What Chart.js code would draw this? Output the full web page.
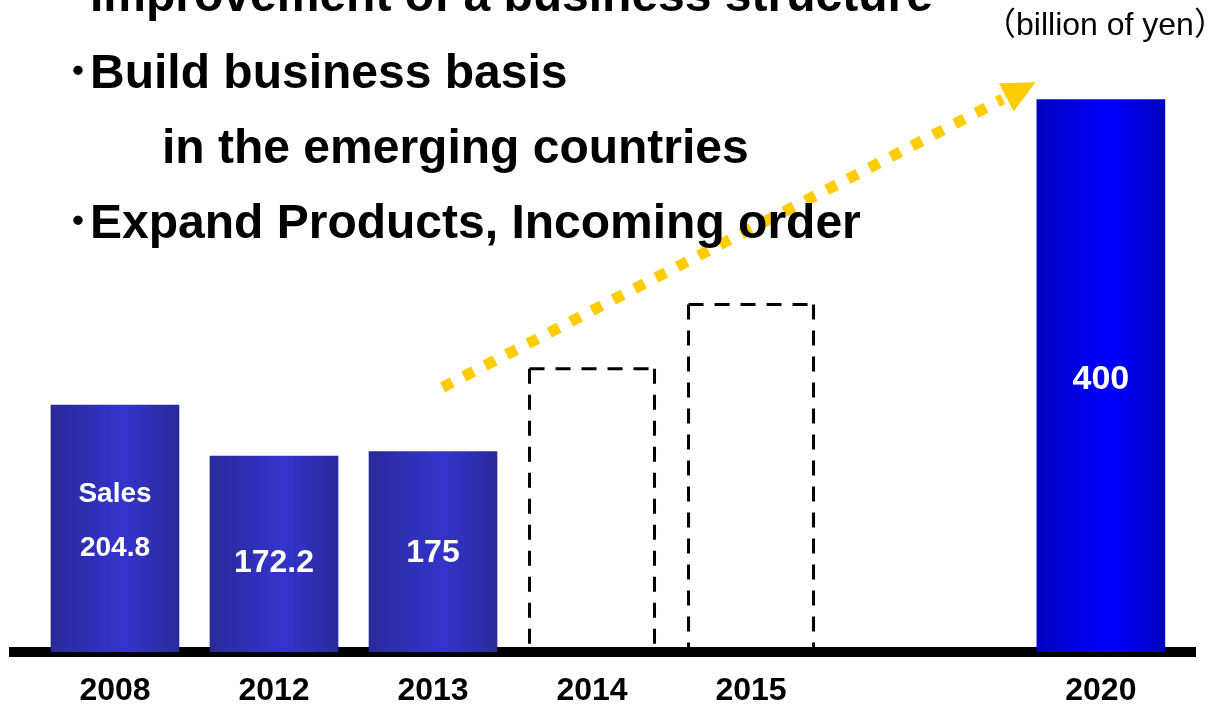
<!DOCTYPE html>
<html>
<head>
<meta charset="utf-8">
<script src="https://cdn.jsdelivr.net/npm/chart.js@4/dist/chart.umd.min.js"></script>
<style>
  html, body { margin: 0; padding: 0; background: #fff; }
  #stage { position: relative; width: 1223px; height: 711px; overflow: hidden; }
  #chart { position: absolute; left: 0; top: 0; }
  .headline {
    position: absolute; white-space: nowrap; color: #000;
    font: bold 48px/48px "Liberation Sans", "Noto Sans CJK JP", Arial, sans-serif;
  }
  .unit {
    position: absolute; white-space: nowrap; color: #000;
    font: 32px/32px "Liberation Sans", "Noto Sans CJK JP", Arial, sans-serif;
  }
</style>
</head>
<body>
<div id="stage">
  <canvas id="chart" width="1223" height="711"></canvas>
  <div class="headline" style="left:90px; top:-29px;">Improvement of a business structure</div>
  <div class="headline" style="left:66px; top:48px;">･Build business basis</div>
  <div class="headline" style="left:162px; top:123px;">in the emerging countries</div>
  <div class="headline" style="left:66px; top:198px;">･Expand Products, Incoming order</div>
  <div class="unit" id="unit" style="left:984px; top:8px;"></div>
</div>
<script>
// ---- sales figures (billion of yen) ----
const years = ['2008', '2012', '2013', '2014', '2015', '2020'];
const actualYears = ['2008', '2012', '2013'];
const actualSales = [204.8, 172.2, 175];
const planYears = ['2014', '2015'];
const planSales = [229, 270];
const targetYears = ['2020'];
const targetSales = [400];
const unitText = '（billion of yen）';
const salesCaption = 'Sales';

document.getElementById('unit').textContent = unitText;

// ---- layout ----
// slot of each year along the horizontal axis; the 2020 goal sits apart
const slotOf = { '2008': 0, '2012': 1, '2013': 2, '2014': 3, '2015': 4, '2020': 6.2 };
const BAR_W = 128;
const FONT = '"Liberation Sans", Arial, sans-serif';

// captions written inside the solid bars: [year, text, px size, px above bar base]
const barNotes = [
  ['2008', salesCaption, 28, 158],
  ['2008', String(actualSales[0]), 28, 104],
  ['2012', String(actualSales[1]), 32, 89],
  ['2013', String(actualSales[2]), 32, 99],
  ['2020', String(targetSales[0]), 34, 272]
];

// dotted growth arrow, in axis units
const trendArrow = { from: { x: 2.06, y: 216 }, to: { x: 5.79, y: 411 } };

const toPoints = (ys, vs) => ys.map((y, i) => ({ x: slotOf[y], y: vs[i] }));

// horizontal shading of the solid bars: darker edges, lighter band right of centre
const shades = { 0: ['#29299a', '#3434cc'], 2: ['#0000c0', '#0000ff'] };

const barShading = {
  id: 'barShading',
  beforeDatasetsDraw(chart) {
    const c = chart.ctx;
    Object.keys(shades).forEach(di => {
      const [edge, mid] = shades[di];
      chart.getDatasetMeta(+di).data.forEach(el => {
        const p = el.getProps(['x', 'width'], true);
        if (!isFinite(p.x) || !isFinite(p.width)) return;
        const g = c.createLinearGradient(p.x - p.width / 2, 0, p.x + p.width / 2, 0);
        g.addColorStop(0, edge);
        g.addColorStop(0.57, mid);
        g.addColorStop(1, edge);
        el.options.backgroundColor = g;
      });
    });
  }
};

// dashed outlines for the planned years
const planOutline = {
  id: 'planOutline',
  afterDatasetsDraw(chart) {
    const meta = chart.getDatasetMeta(1);
    const c = chart.ctx;
    const floor = chart.chartArea.bottom;
    c.save();
    c.strokeStyle = '#000';
    c.lineWidth = 3;
    c.setLineDash([15, 11]);
    meta.data.forEach(el => {
      const p = el.getProps(['x', 'y', 'base', 'width'], true);
      const b = Math.min(p.base, floor);
      const l = p.x - p.width / 2 + 1.5, r = p.x + p.width / 2 - 1.5, t = p.y + 1.5;
      [[l, t, l, b], [l, t, r, t], [r, t, r, b]].forEach(s => {
        c.beginPath(); c.moveTo(s[0], s[1]); c.lineTo(s[2], s[3]); c.stroke();
      });
    });
    c.restore();
  }
};

// white captions inside the solid bars
const barCaptions = {
  id: 'barCaptions',
  afterDatasetsDraw(chart) {
    const c = chart.ctx;
    const base = chart.scales.y.getPixelForValue(chart.scales.y.min);
    c.save();
    c.fillStyle = '#fff';
    c.textAlign = 'center';
    c.textBaseline = 'middle';
    barNotes.forEach(([yr, text, size, up]) => {
      c.font = 'bold ' + size + 'px ' + FONT;
      c.fillText(text, chart.scales.x.getPixelForValue(slotOf[yr]), base - up);
    });
    c.restore();
  }
};

// yellow dotted arrow pointing at the 2020 goal
const growthArrow = {
  id: 'growthArrow',
  afterDatasetsDraw(chart) {
    const xs = chart.scales.x, ys = chart.scales.y, c = chart.ctx;
    const x0 = xs.getPixelForValue(trendArrow.from.x), y0 = ys.getPixelForValue(trendArrow.from.y);
    const x1 = xs.getPixelForValue(trendArrow.to.x), y1 = ys.getPixelForValue(trendArrow.to.y);
    const len = Math.hypot(x1 - x0, y1 - y0);
    const ux = (x1 - x0) / len, uy = (y1 - y0) / len;
    const head = 33, half = 16;
    const bx = x1 - ux * head, by = y1 - uy * head;
    c.save();
    c.strokeStyle = '#FFCC00';
    c.fillStyle = '#FFCC00';
    c.lineWidth = 11;
    c.lineCap = 'butt';
    c.setLineDash([11, 13]);
    c.beginPath(); c.moveTo(x0, y0); c.lineTo(bx - ux * 4, by - uy * 4); c.stroke();
    c.setLineDash([]);
    c.beginPath();
    c.moveTo(x1, y1);
    c.lineTo(bx - uy * half, by + ux * half);
    c.lineTo(bx + uy * half, by - ux * half);
    c.closePath(); c.fill();
    c.restore();
  }
};

new Chart(document.getElementById('chart'), {
  type: 'bar',
  data: {
    datasets: [
      {
        label: 'Sales',
        data: toPoints(actualYears, actualSales),
        backgroundColor: (ctx) => shades[0][1],
        borderWidth: 0
      },
      {
        label: 'Plan',
        data: toPoints(planYears, planSales),
        backgroundColor: 'rgba(0,0,0,0)',
        borderWidth: 0
      },
      {
        label: 'Goal',
        data: toPoints(targetYears, targetSales),
        backgroundColor: (ctx) => shades[2][1],
        borderWidth: 0
      }
    ]
  },
  options: {
    responsive: false,
    animation: false,
    events: [],
    barThickness: BAR_W,
    grouped: false,
    layout: { padding: { left: 14, right: 28, top: 40, bottom: 0 } },
    plugins: { legend: { display: false }, tooltip: { enabled: false } },
    scales: {
      x: {
        type: 'linear',
        min: -0.635,
        max: 6.792,
        offset: false,
        z: 1,
        grid: { display: false, drawTicks: false },
        border: { display: true, width: 10, color: '#000' },
        afterBuildTicks: (s) => { s.ticks = years.map(y => ({ value: slotOf[y] })); },
        afterFit: (s) => { s.height = 59; },
        ticks: {
          autoSkip: false,
          maxRotation: 0,
          padding: 20,
          color: '#000',
          font: { family: FONT, size: 32, weight: 'bold' },
          callback: (v, i) => years[i]
        }
      },
      y: {
        display: false,
        beginAtZero: false,
        min: 47,
        max: 438
      }
    }
  },
  plugins: [barShading, planOutline, barCaptions, growthArrow]
});
</script>
</body>
</html>
